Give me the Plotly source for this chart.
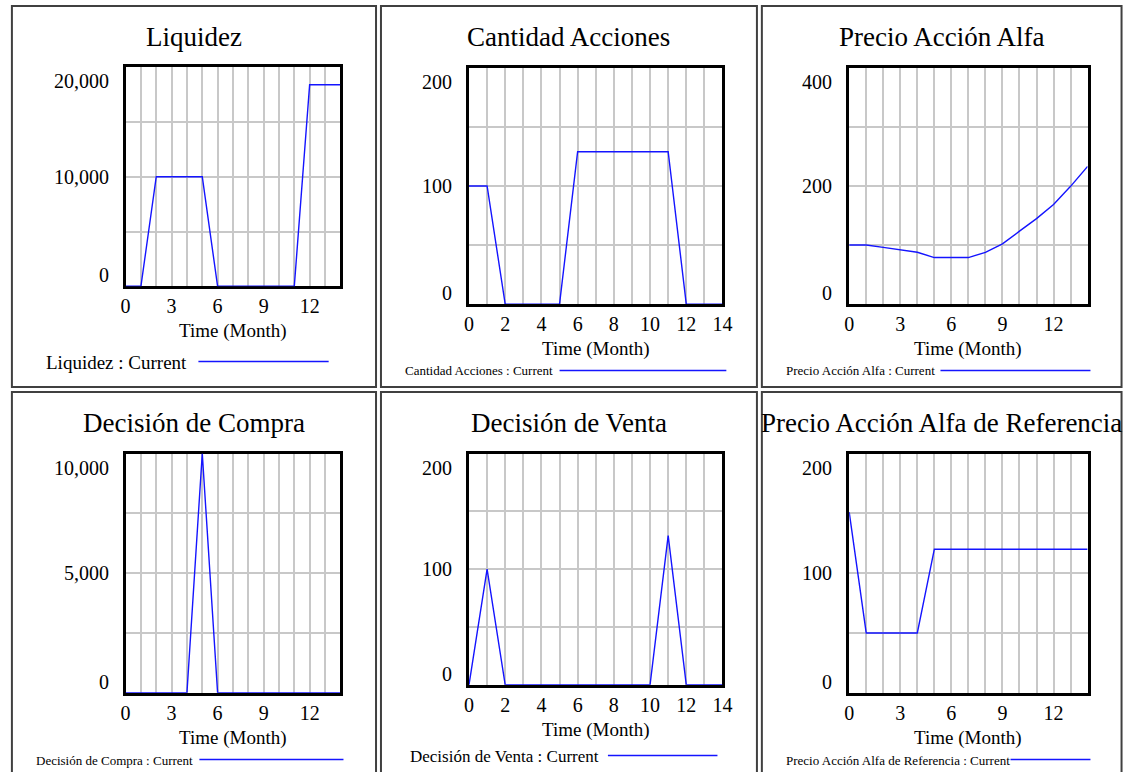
import plotly.graph_objects as go

# ---------------- data ----------------
months = list(range(15))
liquidez = [0, 0, 10000, 10000, 10000, 10000, 0, 0, 0, 0, 0, 0, 18400, 18400, 18400]
cantidad_acciones = [100, 100, 0, 0, 0, 0, 129, 129, 129, 129, 129, 129, 0, 0, 0]
precio_accion_alfa = [100, 100, 96, 92, 87.7, 78.8, 78.8, 78.8, 87.7, 102, 123.5, 144.7, 168.7, 199.4, 233]
decision_compra = [0, 0, 0, 0, 0, 10000, 0, 0, 0, 0, 0, 0, 0, 0, 0]
decision_venta = [0, 100, 0, 0, 0, 0, 0, 0, 0, 0, 0, 129, 0, 0, 0]
precio_referencia = [151, 50, 50, 50, 50, 120, 120, 120, 120, 120, 120, 120, 120, 120, 120]

titles = ["Liquidez", "Cantidad Acciones", "Precio Acción Alfa",
          "Decisión de Compra", "Decisión de Venta", "Precio Acción Alfa de Referencia"]
series = [liquidez, cantidad_acciones, precio_accion_alfa,
          decision_compra, decision_venta, precio_referencia]
y_max = [20000, 200, 400, 10000, 200, 200]
y_tick_labels = [["0", "10,000", "20,000"], ["0", "100", "200"], ["0", "200", "400"],
                 ["0", "5,000", "10,000"], ["0", "100", "200"], ["0", "100", "200"]]
x_ticks_a = [0, 3, 6, 9, 12]
x_ticks_b = [0, 2, 4, 6, 8, 10, 12, 14]
x_ticks = [x_ticks_a, x_ticks_b, x_ticks_a, x_ticks_a, x_ticks_b, x_ticks_a]
x_title = "Time (Month)"
legend_suffix = " : Current"

# ---------------- layout geometry (pixels) ----------------
W, H = 1135, 772
# plot frame: left, right, top, bottom
frames = [(121, 341, 66, 287.5), (469, 728.3, 66.7, 305.3), (854.3, 1098.3, 66.7, 305.3),
          (121, 341, 452.3, 694), (469, 728.3, 452.3, 686), (854.3, 1098.3, 452.3, 694)]
panels = [(7, 376, 6, 387), (381, 762, 6, 387), (767, 1131.5, 6, 387),
          (7, 376, 392, 800), (381, 762, 392, 800), (767, 1131.5, 392, 800)]
title_y = [37.5, 37.5, 37.5, 423.3, 423.3, 423.3]
legend_font = [19, 13, 13, 13, 17, 13]
legend_text_x = [40, 403.3, 789, 29.3, 408.3, 789]
legend_y = [362, 371, 371, 760, 756, 760]
legend_line_x = [(196, 328), (562, 731), (948, 1100), (197, 343), (611, 722), (1019, 1100)]

FONT = "Liberation Serif, Times New Roman, serif"
BLUE = "#1414ff"
GRID = "#c8c8c8"


def px(x):
    return x / W


def py(y):
    return 1 - y / H


fig = go.Figure()
annotations = []
shapes = []
inset = 1.2

for i in range(6):
    n = i + 1
    xa = "x" if n == 1 else f"x{n}"
    ya = "y" if n == 1 else f"y{n}"
    l, r, t, b = frames[i]
    fig.add_trace(go.Scatter(x=months, y=series[i], mode="lines",
                             line=dict(color=BLUE, width=1.4),
                             xaxis=xa, yaxis=ya, showlegend=False,
                             name=titles[i]))
    fig.layout[f"xaxis{n}"] = dict(
        domain=[px(l + inset), px(r - inset)], anchor=ya, range=[0, 14],
        tickmode="array", tickvals=x_ticks[i], ticks="",
        showgrid=True, gridcolor=GRID, gridwidth=1.5,
        minor=dict(dtick=1, tick0=0, showgrid=True, gridcolor=GRID, gridwidth=1.5),
        showline=True, linecolor="black", linewidth=3, mirror=True,
        zeroline=False, layer="below traces",
        tickfont=dict(family=FONT, size=20, color="black"), ticklabelstandoff=0,
        fixedrange=True)
    fig.layout[f"yaxis{n}"] = dict(
        domain=[py(b - inset), py(t + inset)], anchor=xa, range=[0, y_max[i]],
        tickmode="linear", tick0=0, dtick=y_max[i] / 4, ticks="",
        showticklabels=False, showgrid=True, gridcolor=GRID, gridwidth=1.5,
        showline=True, linecolor="black", linewidth=3, mirror=True,
        zeroline=False, layer="below traces", fixedrange=True)

    # y tick labels (Vensim style offsets)
    for lab, yv, ys in zip(y_tick_labels[i], [0, 0.5, 1], [11, 0, -14]):
        annotations.append(dict(text=lab, xref=f"{xa} domain", yref=f"{ya} domain",
                                x=0, y=yv, xanchor="right", yanchor="middle",
                                xshift=-15, yshift=ys, showarrow=False,
                                font=dict(family=FONT, size=20, color="black")))
    # x axis title
    annotations.append(dict(text=x_title, xref=f"{xa} domain", yref=f"{ya} domain",
                            x=0.5, y=0, xanchor="center", yanchor="middle",
                            yshift=-45, showarrow=False,
                            font=dict(family=FONT, size=19, color="black")))
    # panel title
    pl, pr, pt, pb = panels[i]
    annotations.append(dict(text=titles[i], xref="paper", yref="paper",
                            x=px((pl + pr) / 2), y=py(title_y[i]),
                            xanchor="center", yanchor="middle", showarrow=False,
                            font=dict(family=FONT, size=27, color="black")))
    # legend
    annotations.append(dict(text=titles[i] + legend_suffix, xref="paper", yref="paper",
                            x=px(legend_text_x[i]), y=py(legend_y[i]),
                            xanchor="left", yanchor="middle", showarrow=False,
                            font=dict(family=FONT, size=legend_font[i], color="black")))
    lx0, lx1 = legend_line_x[i]
    shapes.append(dict(type="line", xref="paper", yref="paper",
                       x0=px(lx0), x1=px(lx1), y0=py(legend_y[i] - 0.5), y1=py(legend_y[i] - 0.5),
                       line=dict(color=BLUE, width=1.4)))
    # panel border
    shapes.append(dict(type="rect", xref="paper", yref="paper",
                       x0=px(pl), x1=px(pr), y0=py(pb), y1=py(pt),
                       line=dict(color="#404040", width=2), layer="below"))

fig.update_layout(width=W, height=H, margin=dict(l=0, r=0, t=0, b=0),
                  paper_bgcolor="white", plot_bgcolor="white",
                  annotations=annotations, shapes=shapes, showlegend=False,
                  font=dict(family=FONT, color="black"))

fig.write_html("out.html", config={"displayModeBar": False},
               post_script="document.body.style.margin='0';document.body.style.overflow='hidden';")
